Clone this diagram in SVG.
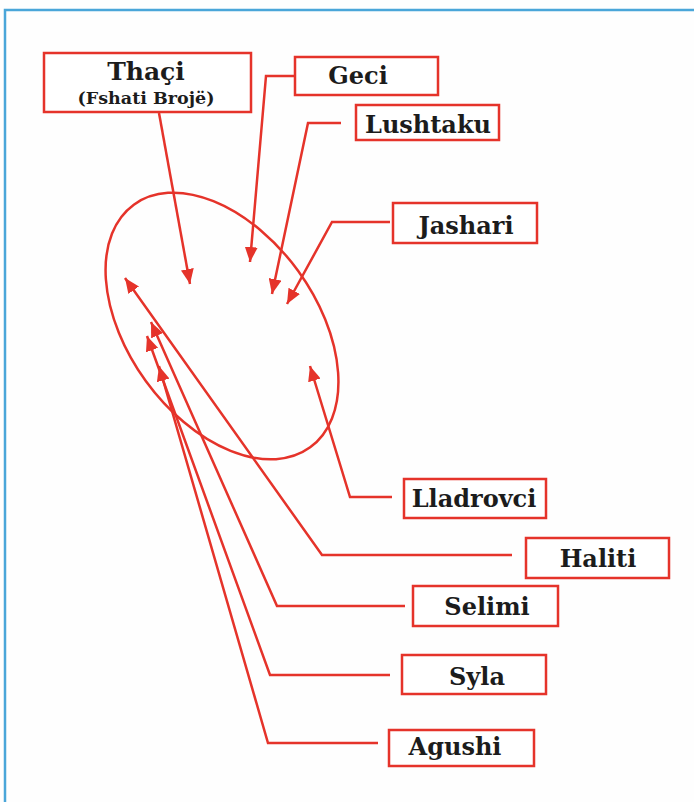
<svg xmlns="http://www.w3.org/2000/svg" width="694" height="802" viewBox="0 0 694 802">
<style>
.box{fill:#ffffff;stroke:#e5332a;stroke-width:2.5}
.lbl{font-family:"DejaVu Serif","Liberation Serif",serif;font-weight:bold;font-size:24px;fill:#1c1c1c;text-anchor:middle}
.lbl.title{font-size:25px}
.lbl.sub{font-size:17.5px}
.con{fill:none;stroke:#e5332a;stroke-width:2.5;stroke-linejoin:miter}
</style>
<defs>
<marker id="ah" markerUnits="userSpaceOnUse" markerWidth="17" markerHeight="13" refX="15" refY="6.5" orient="auto">
<path d="M0,0 L15,6.5 L0,13 z" fill="#e5332a"/>
</marker>
</defs>
<rect x="0" y="0" width="694" height="802" fill="#fefefe"/>
<path d="M5,802 L5,10 L694,10" fill="none" stroke="#4aa6d9" stroke-width="2.5"/>
<g id="group-ellipse">
<ellipse cx="222" cy="326" rx="150" ry="94" transform="rotate(54 222 326)" fill="none" stroke="#e5332a" stroke-width="2.5"/>
</g>
<g id="connectors">
<path class="con" d="M159,113 L190,284" marker-end="url(#ah)"/>
<path class="con" d="M294,76 L266,76 L250,262" marker-end="url(#ah)"/>
<path class="con" d="M341,123 L308,123 L272,294" marker-end="url(#ah)"/>
<path class="con" d="M390,222 L332,222 L287,304" marker-end="url(#ah)"/>
<path class="con" d="M392,497 L350,497 L310,366" marker-end="url(#ah)"/>
<path class="con" d="M512,555 L322,555 L125,278" marker-end="url(#ah)"/>
<path class="con" d="M405,606 L277,606 L151,322" marker-end="url(#ah)"/>
<path class="con" d="M390,675 L270,675 L147,336" marker-end="url(#ah)"/>
<path class="con" d="M378,743 L268,743 L159,366" marker-end="url(#ah)"/>
</g>
<g id="node-thaci">
<rect class="box" x="44" y="53" width="207" height="59"/>
<text class="lbl title" x="146" y="80">Thaçi</text>
<text class="lbl sub" x="146" y="104">(Fshati Brojë)</text>
</g>
<g id="node-geci">
<rect class="box" x="295" y="57" width="143" height="38"/>
<text class="lbl" x="358" y="84">Geci</text>
</g>
<g id="node-lushtaku">
<rect class="box" x="356" y="105" width="143" height="35"/>
<text class="lbl" x="428" y="133">Lushtaku</text>
</g>
<g id="node-jashari">
<rect class="box" x="393" y="203" width="144" height="40"/>
<text class="lbl" x="466" y="234">Jashari</text>
</g>
<g id="node-lladrovci">
<rect class="box" x="404" y="479" width="142" height="39"/>
<text class="lbl" x="474" y="507">Lladrovci</text>
</g>
<g id="node-haliti">
<rect class="box" x="526" y="538" width="143" height="40"/>
<text class="lbl" x="598" y="567">Haliti</text>
</g>
<g id="node-selimi">
<rect class="box" x="413" y="586" width="145" height="40"/>
<text class="lbl" x="487" y="615">Selimi</text>
</g>
<g id="node-syla">
<rect class="box" x="402" y="655" width="144" height="39"/>
<text class="lbl" x="477" y="685">Syla</text>
</g>
<g id="node-agushi">
<rect class="box" x="389" y="730" width="145" height="36"/>
<text class="lbl" x="455" y="755">Agushi</text>
</g>
</svg>
